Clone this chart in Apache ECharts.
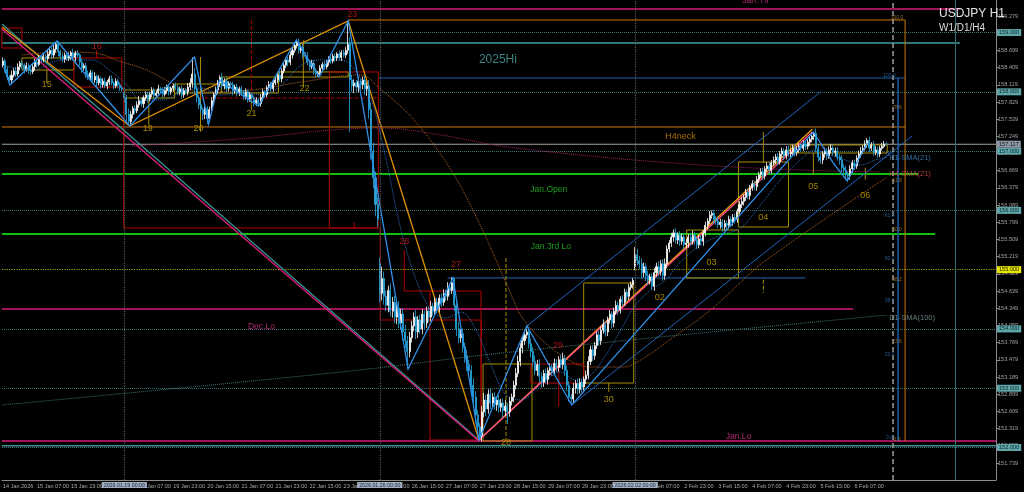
<!DOCTYPE html>
<html><head><meta charset="utf-8">
<script src="https://cdn.jsdelivr.net/npm/echarts@6/dist/echarts.min.js"></script>
<style>html,body{margin:0;padding:0;background:#000;}#c{width:1024px;height:492px;}</style>
</head><body><div id="c"></div>
<script>
// ---------- DATA (bar index = hourly bar from 14 Jan 15:00; price in JPY) ----------
const closes = [
158.52,158.38,158.25,158.20,158.28,158.35,158.30,158.42,158.48,158.45,
158.38,158.44,158.36,158.34,158.42,158.50,158.46,158.55,158.54,158.60,
158.56,158.64,158.70,158.62,158.72,158.80,158.68,158.60,158.55,158.62,
158.57,158.60,158.66,158.58,158.65,158.62,158.50,158.40,158.44,158.30,
158.25,158.32,158.20,158.26,158.15,158.22,158.12,158.18,158.10,158.16,
158.22,158.15,158.10,158.18,158.12,158.07,158.04,157.90,157.62,157.50,
157.62,157.72,157.68,157.78,157.85,157.80,157.90,157.95,157.88,157.96,
158.02,157.94,157.98,158.05,158.03,157.96,158.02,158.08,158.00,158.06,
158.10,158.07,158.00,158.05,157.95,158.02,158.00,158.08,158.15,158.30,
158.05,157.90,157.78,157.70,157.62,157.72,157.55,157.70,157.85,157.95,
158.03,158.15,158.24,158.10,158.18,158.06,158.14,158.12,158.02,158.08,
157.98,158.05,158.00,157.92,158.00,157.88,157.95,157.90,157.82,157.86,
157.80,157.90,158.00,157.95,158.07,158.12,158.05,158.15,158.20,158.28,
158.22,158.35,158.45,158.54,158.50,158.62,158.70,158.78,158.82,158.70,
158.75,158.62,158.60,158.50,158.42,158.48,158.36,158.30,158.32,158.40,
158.46,158.42,158.50,158.55,158.52,158.60,158.57,158.64,158.58,158.66,
158.62,158.70,158.80,158.20,158.10,158.15,158.08,158.18,158.12,158.20,
158.05,158.10,157.70,157.00,156.55,156.10,155.85,154.60,154.85,154.55,
154.40,154.65,154.30,154.45,154.20,154.35,154.10,154.25,153.95,153.80,
153.62,153.85,154.05,154.20,153.95,154.15,154.00,154.25,154.10,154.30,
154.20,154.38,154.30,154.45,154.35,154.52,154.45,154.60,154.55,154.70,
154.65,154.78,154.40,154.00,153.85,153.92,153.70,153.55,153.40,153.30,
153.05,152.85,152.55,152.35,152.20,152.60,152.80,152.65,152.90,152.75,
152.85,152.72,152.80,152.68,152.75,152.62,152.70,152.60,152.78,152.85,
153.05,153.25,153.45,153.68,153.80,153.90,153.95,153.75,153.62,153.45,
153.30,153.40,153.20,153.10,153.25,153.15,153.30,153.35,153.28,153.42,
153.35,153.48,153.40,153.50,153.30,153.05,152.85,152.82,153.00,153.08,
152.98,153.10,153.02,153.15,153.22,153.45,153.65,153.55,153.72,153.90,
153.80,153.98,154.08,153.95,154.15,154.25,154.10,154.30,154.40,154.32,
154.50,154.45,154.62,154.55,154.70,154.75,154.82,155.25,155.15,155.10,
154.95,155.05,154.90,154.82,154.88,154.72,154.95,155.05,154.98,155.10,
154.90,155.10,155.35,155.45,155.55,155.62,155.50,155.58,155.48,155.55,
155.42,155.45,155.55,155.48,155.58,155.50,155.42,155.52,155.48,155.62,
155.75,155.82,155.92,155.95,155.85,155.82,155.76,155.80,155.72,155.78,
155.75,155.85,155.80,155.88,155.85,155.98,156.10,156.15,156.22,156.30,
156.25,156.38,156.45,156.40,156.52,156.60,156.65,156.58,156.70,156.75,
156.68,156.80,156.85,156.90,156.82,156.95,157.00,156.92,157.02,156.95,
156.98,157.05,156.98,157.02,157.08,157.05,157.12,157.08,157.15,157.20,
157.25,157.30,157.05,156.90,156.85,156.95,157.00,156.92,157.02,157.05,
156.98,157.00,156.90,156.85,156.72,156.68,156.60,156.58,156.70,156.80,
156.75,156.88,156.95,157.00,157.05,157.12,157.18,157.05,157.10,156.98,
157.02,156.95,157.05,157.08,157.12,157.117];
// upper / lower wick lengths in pips
const upWick = [
6,4,5,3,8,5,7,6,4,5, 3,6,4,8,5,6,4,7,5,6, 4,8,6,5,7,4,6,3,5,4, 5,6,3,7,4,5,3,6,4,5,
6,5,4,7,3,6,4,5,6,4, 5,6,3,5,4,4,3,8,5,10, 6,4,5,6,8,5,4,6,5,4, 6,5,4,7,3,5,6,4,5,3,
4,6,5,3,6,4,5,7,8,28, 10,6,5,7,4,6,4,5,6,4, 6,5,4,8,5,6,4,3,5,4, 6,4,5,3,6,4,5,3,4,5,
4,6,5,3,4,6,5,4,6,5, 7,5,6,4,5,6,4,6,6,8, 4,6,5,7,4,6,5,4,3,5, 4,6,3,5,6,4,5,3,6,4,
5,6,39,12,8,6,5,7,4,6, 8,6,10,12,14,10,12,10,20,12, 10,8,12,9,11,10,12,9,10,12, 8,10,9,8,12,7,9,8,6,8,
7,9,6,8,7,6,8,7,6,9, 5,9,8,10,12,8,9,7,10,8, 9,12,10,8,6,10,12,9,8,10, 7,8,6,9,7,8,10,6,7,6,
8,9,10,8,7,6,5,8,9,7, 10,8,9,7,6,8,5,7,6,8, 7,6,8,10,6,8,7,5,9,6, 8,7,6,5,8,9,7,8,6,5,
7,6,8,5,6,7,5,6,8,6, 5,7,6,5,6,5,4,13,10,8, 9,7,6,8,5,6,8,7,9,6, 8,9,6,5,7,6,8,5,7,6,
6,7,5,6,8,6,5,7,6,5, 6,5,7,5,6,5,7,6,5,6, 5,6,5,6,7,5,6,7,5,6, 7,5,6,5,6,5,6,7,5,6,
6,5,6,5,7,5,6,5,6,7, 5,6,5,7,6,5,6,5,6,5, 6,2,8,7,6,5,6,5,6,7, 5,6,7,5,8,6,7,5,6,5,
6,5,6,7,5,6,4,6,5,7, 6,5,4,6,5,3];
const downWick = [
4,6,5,3,6,4,5,4,6,5, 7,4,6,5,4,6,5,3,6,4, 6,5,4,7,5,6,8,6,5,6, 4,5,6,4,7,5,6,8,4,7,
5,6,4,5,7,4,6,5,4,6, 5,4,6,4,5,6,4,8,12,6, 5,7,6,4,5,6,7,5,6,4, 5,6,4,5,6,7,4,5,6,5,
6,4,5,6,7,5,4,6,5,8, 10,8,7,6,10,8,9,6,5,7, 5,6,7,5,6,7,5,6,8,5, 6,5,7,6,5,6,5,4,7,6,
4,5,6,5,4,5,6,5,4,6, 5,6,4,5,7,5,6,4,5,6, 5,6,4,5,6,4,7,6,4,5, 6,5,4,6,5,4,6,5,5,6,
4,5,6,88,10,12,8,9,7,8, 10,12,15,14,18,20,13,15,12,14, 10,12,9,11,10,12,9,10,14,12, 29,10,8,9,12,10,8,9,11,8,
9,7,8,6,9,7,8,6,8,7, 8,6,10,12,9,8,10,12,11,9, 12,10,14,12,6,10,9,12,8,10, 9,8,10,9,8,12,9,20,8,7,
8,7,6,8,9,7,6,8,10,9, 8,9,10,9,8,7,9,8,7,6, 8,7,6,8,9,10,8,8,7,9, 8,7,9,6,8,7,6,9,7,6,
8,7,6,8,7,6,9,7,6,8, 6,7,6,8,6,5,7,6,8,9, 10,8,9,8,7,6,8,7,9,8, 9,7,8,6,7,8,6,7,8,6,
7,6,8,7,6,8,7,6,7,8, 6,7,5,6,8,7,6,7,8,6, 7,6,8,6,7,6,5,6,7,6, 6,7,5,6,7,6,5,7,6,5,
7,6,5,7,6,5,6,7,6,5, 6,5,7,6,5,6,5,6,5,6, 5,6,7,8,6,7,6,7,5,6, 6,7,6,8,7,6,8,8,6,7,
6,5,7,6,5,4,6,7,5,6, 5,6,5,4,3,2];
const gapOpens = {0:158.45, 57:157.98, 177:155.10, 297:155.05};
const tickLabels = ["14 Jan 2026","15 Jan 07:00","15 Jan 23:00","16 Jan 15:00","19 Jan 07:00","19 Jan 23:00",
 "20 Jan 15:00","21 Jan 07:00","21 Jan 23:00","22 Jan 15:00","23 Jan 07:00","23 Jan 23:00","26 Jan 15:00",
 "27 Jan 07:00","27 Jan 23:00","28 Jan 15:00","29 Jan 07:00","29 Jan 23:00","30 Jan 15:00","2 Feb 07:00",
 "2 Feb 23:00","3 Feb 15:00","4 Feb 07:00","4 Feb 23:00","5 Feb 15:00","6 Feb 07:00"];
const priceTicks = [151.739,152.029,152.319,152.609,152.899,153.189,153.479,153.769,154.059,154.349,154.639,
 154.929,155.219,155.509,155.799,156.089,156.379,156.669,156.959,157.249,157.539,157.829,158.119,158.409,
 158.699,158.989,159.279];
const roundLevels = [159, 158, 157, 156, 154, 153, 152];
const yellowLevel = [155];
const currentPrice = 157.117;
const separators = [[57,"2026.01.19 00:00"],[177,"2026.01.26 00:00"],[297,"2026.02.02 00:00"]];

// overlay objects, [barIndex, price]
const janHi = [[-0.5,159.397],[449.6,159.397]];
const hi2025 = [[-0.5,158.824],[449.6,158.824]];
const fibTop = [[162.2,159.212],[423.8,159.212]];
const blueFibTop = [[176.3,158.233],[423.8,158.233]];
const h4neck = [[-0.5,157.407],[423.8,157.407]];
const curLine = [[-0.5,157.117],[466.5,157.117]];
const janOpen = [[-0.5,156.614],[429.9,156.614]];
const jan3rdLo = [[-0.5,155.602],[437.9,155.602]];
const decLo = [[-0.5,154.337],[399.4,154.337]];
const janLo = [[-0.5,152.110],[466.5,152.110]];
const tealBottom = [[-0.5,152.030],[466.5,152.030]];
const high27 = [[208.8,154.860],[377.0,154.860]];
const orangeVert = [[423.8,159.212],[423.8,152.110]];
const blueVert = [[420.5,158.233],[420.5,152.110]];
const orangeLegs = [[-0.5,159.094],[59.5,157.424],[162.2,159.195],[223.6,152.127]];
const tealDiag = [[-0.5,159.144],[223.6,152.127]];
const magentaDiag = [[-0.5,159.060],[223.6,152.110]];
const pinkRise = [[223.6,152.127],[380.2,157.322]];
const orangeRise = [[223.6,152.127],[380.2,157.370]];
const channelUp = [[246.1,154.050],[384.0,157.997]];
const channelLo = [[267.2,152.717],[427.1,157.255]];
const zigzag = [[0.44,158.419],[3.25,158.115],[25.3,158.857],[59.5,157.424],[90.0,158.587],[96.6,157.457],
 [101.7,158.200],[120.0,157.761],[137.8,158.874],[148.6,158.250],[162.2,159.195],[190.3,153.325],[211.4,154.860],
 [223.6,152.127],[246.1,154.050],[267.2,152.717],[380.7,157.322],[390.1,156.799],[396.6,156.496],[406.0,157.137]];
const h4Sma = [[8.9,158.621],[27.6,158.672],[43.1,158.655],[55.8,158.503],[65.1,158.402],[93.3,157.997],
 [116.7,158.031],[140.2,158.166],[168.3,158.284],[176.3,158.081],[193.1,157.525],[210.5,156.681],[224.6,155.720],
 [237.2,154.708],[244.7,154.151],[260.7,153.594],[276.1,153.358],[291.6,153.358],[299.6,153.476],[315.1,153.864],
 [332.4,154.320],[354.4,155.045],[369.9,155.450],[385.4,155.838],[401.3,156.226],[415.4,156.563]];
const h1Sma = [[-0.5,158.453],[13.6,158.368],[27.6,158.537],[41.7,158.537],[51.1,158.334],[58.1,158.115],
 [65.1,157.862],[74.5,157.862],[83.9,157.997],[93.3,158.065],[102.6,157.946],[112.0,157.997],[121.4,157.946],
 [130.8,158.115],[140.2,158.453],[149.5,158.537],[158.9,158.537],[166.0,158.334],[173.0,157.862],[180.0,156.850],
 [187.0,155.669],[194.1,154.826],[201.1,154.320],[208.1,154.185],[215.2,154.286],[222.2,153.983],[229.2,153.393],
 [236.3,152.887],[243.3,152.802],[252.7,153.055],[262.1,153.274],[269.1,153.139],[276.1,153.223],[283.2,153.561],
 [290.2,153.983],[297.2,154.404],[304.3,154.657],[311.3,154.826],[318.3,155.129],[327.7,155.416],[337.1,155.585],
 [346.5,155.703],[355.8,156.091],[365.2,156.513],[374.6,156.850],[381.6,157.019],[388.7,156.934],[395.7,156.850],
 [402.7,156.766],[409.8,156.850],[415.4,156.901]];
const longSma = [[60.5,157.086],[116.7,157.221],[154.2,157.356],[177.7,157.390],[205.8,157.272],[233.9,157.086],
 [280.8,156.901],[327.7,156.766],[374.6,156.681],[412.1,156.648]];
const d1Sma = [[-0.5,152.717],[158.9,153.274],[238.6,153.611],[415.4,154.235]];
// boxes [bar1, price1, bar2, price2]
const oliveBoxes = [[8.9,158.571,33.3,158.368],[57.2,158.031,80.6,157.896],[80.6,158.132,102.6,157.980],
 [102.6,158.250,129.4,157.980],[129.4,158.335,162.2,158.250],[225.5,153.409,248.5,152.110],
 [272.8,154.775,296.3,153.088],[321.2,155.669,345.5,154.860],[345.5,156.816,369.0,155.720],
 [369.9,157.103,415.4,156.968]];
const oliveTicks = [[[20.6,158.368],[20.6,158.150]],[[68.5,157.896],[68.5,157.440]],[[92.8,158.587],[92.8,157.330]],
 [[116.7,157.980],[116.7,157.690]],[[141.1,158.870],[141.1,158.080]],[[284.6,153.088],[284.6,152.940]],
 [[357.2,157.320],[357.2,156.800]],[[405.1,156.720],[405.1,156.520]],[[380.7,156.968],[380.7,156.600]]];
const oliveDashed = [[[236.3,155.197],[236.3,152.127]],[[357.2,154.830],[357.2,154.610]]];
const redBoxes = [[-0.5,159.077,8.9,158.739],[33.3,158.571,55.8,158.081],[153.3,158.335,176.3,155.703],
 [200.6,154.640,224.6,152.127],[248.0,153.409,272.8,153.088]];
const redLines = [[[56.7,158.081],[56.7,155.703],[176.3,155.703]],[[44.0,158.700],[44.0,158.571]],
 [[188.5,155.332],[188.5,154.640],[200.6,154.640]],[[177.2,155.703],[177.2,154.151],[224.6,154.151],[224.6,152.127]],
 [[261.1,153.527],[261.1,152.684]],[[165.0,155.800],[165.0,155.703]]];
const redDashed = [[[91.9,157.896],[176.3,157.896]],[[116.7,159.212],[116.7,157.778]]];
// text labels [bar, price, text]
const levelTexts = {
  teal:[[232.5,158.537,"2025Hi"]], orange:[[318.3,157.238,"H4neck"]],
  green:[[256.4,156.344,"Jan.Open"],[257.4,155.383,"Jan.3rd Lo"]],
  pink:[[121.4,154.033,"Dec.Lo"],[345.5,152.177,"Jan.Lo"],[353.5,159.545,"Jan. Hi"]]
};
const oliveCounts = [[20.6,158.115,"15"],[68.0,157.373,"19"],[91.9,157.373,"20"],[116.7,157.626,"21"],
 [141.6,158.048,"22"],[236.3,152.076,"28"],[284.6,152.802,"30"],[308.5,154.522,"02"],[332.9,155.129,"03"],
 [357.2,155.872,"04"],[380.7,156.395,"05"],[405.1,156.243,"06"]];
const redCounts = [[44.0,158.756,"16"],[164.1,159.296,"23"],[188.5,155.467,"26"],[212.8,155.079,"27"],[260.7,153.729,"29"]];
const smaTexts = [[416.3,156.884,"H1-SMA(21)","#3a8ad0"],[416.3,156.614,"H4-SMA(21)","#e04848"],[416.3,154.185,"D1-SMA(100)","#7f9a9e"]];
const fibTextsOrange = [[420.0,159.250,"100.0"],[420.0,157.730,"78.6"],[420.0,156.500,"61.8"],[420.0,155.680,"50.0"],
 [420.0,154.830,"38.2"],[420.0,153.780,"23.6"],[420.0,152.140,"0.0"]];
const fibTextsBlue = [[416.5,158.280,"100.0"],[416.5,156.940,"78.6"],[416.5,155.920,"61.8"],[416.5,155.180,"50.0"],
 [416.5,154.470,"38.2"],[416.5,153.570,"23.6"],[416.5,152.160,"0.0"]];

// ---------- BUILD ----------
const NCAT = 467;
const cats = [];
for (let i = 0; i < NCAT; i++) cats.push(i % 16 === 0 && i / 16 < tickLabels.length ? tickLabels[i / 16] : '');
const candles = closes.map((c, i) => {
  const o = gapOpens[i] !== undefined ? gapOpens[i] : closes[i - 1];
  return [o, c, +(Math.min(o, c) - downWick[i] / 100).toFixed(3), +(Math.max(o, c) + upWick[i] / 100).toFixed(3)];
});
const FONT = 'Liberation Sans, Arial, sans-serif';
function lines(segs, color, width, type, z) {
  return {type:'lines', coordinateSystem:'cartesian2d', xAxisIndex:1, yAxisIndex:0, polyline:true, silent:true,
    animation:false, z:z||2, lineStyle:{color:color, width:width, type:type||'solid', opacity:1},
    data: segs.map(c => ({coords:c}))};
}
function boxPath(b) { return [[b[0],b[1]],[b[2],b[1]],[b[2],b[3]],[b[0],b[3]],[b[0],b[1]]]; }
function curve(pts, color, type) {
  return {type:'line', xAxisIndex:1, yAxisIndex:0, data:pts, smooth:0.35, symbol:'none', silent:true,
    animation:false, z:2, lineStyle:{color:color, width:1, type:type||'dotted'}};
}
function texts(items, color, size, pos, z) {
  return {type:'scatter', xAxisIndex:1, yAxisIndex:0, symbolSize:0, silent:true, animation:false, z:z||6,
    data: items.map(t => ({value:[t[0], t[1]], name:t[2]})),
    label:{show:true, formatter:'{b}', position:pos||'inside', color:color, fontSize:size, fontFamily:FONT, distance:0}};
}
const markBox = (bg, fg) => ({show:true, position:'end', distance:1, fontSize:5.6, fontFamily:FONT,
  backgroundColor:bg, color:fg, padding:[1,2,0,2]});

const series = [
  // horizontal level lines
  lines([janHi], '#d81b78', 1.3), lines([hi2025], '#3f9f9f', 1.3), lines([fibTop], '#d07800', 1),
  lines([blueFibTop], '#1c5ea8', 1.2), lines([h4neck], '#d07800', 1), lines([curLine], '#7a7a7a', 1),
  lines([janOpen], '#12c012', 2), lines([jan3rdLo], '#12c012', 2), lines([decLo], '#d81b78', 1.5),
  lines([janLo], '#d81b78', 1.3), lines([tealBottom], '#3f8f8f', 1.3), lines([high27], '#2266b0', 1),
  lines([orangeVert], '#d07800', 1), lines([blueVert], '#1c5ea8', 1.5),
  // boxes
  lines(oliveBoxes.map(boxPath), '#a88e00', 1), lines(oliveTicks, '#a88e00', 1), lines(oliveDashed, '#a88e00', 1, 'dashed'),
  lines(redBoxes.map(boxPath), '#b00000', 1), lines(redLines, '#b00000', 1), lines(redDashed, '#b00000', 1, 'dashed'),
  // indicator curves
  curve(h4Sma, '#b8641e'), curve(h1Sma, '#2a6fc0'), curve(longSma, '#a0205a'), curve(d1Sma, '#3f7070'),
  // diagonals
  lines([tealDiag], '#3a9a9a', 1.2), lines([magentaDiag], '#d81b78', 1.5), lines([orangeLegs], '#e09000', 1.3),
  lines([channelUp, channelLo], '#1e64c0', 1),
  lines([orangeRise], '#f0a000', 1.3), lines([pinkRise], '#ff4a8a', 1.3),
  // candles
  {type:'candlestick', xAxisIndex:0, yAxisIndex:0, data:candles, barWidth:'72%', silent:true, animation:false, z:3,
    itemStyle:{color:'#ffffff', color0:'#2aa6dc', borderColor:'#ffffff', borderColor0:'#2aa6dc', borderWidth:0.8},
    markLine:{silent:true, symbol:'none', animation:false, z:1, precision:3,
      data: roundLevels.map(v => ({yAxis:v, lineStyle:{color:'#3d7676', type:'dotted', width:1},
              label:markBox('#5fa6aa', '#0d2a2b')}))
        .concat(yellowLevel.map(v => ({yAxis:v, lineStyle:{color:'#a8a800', type:'dotted', width:1.2},
              label:markBox('#e8e800', '#202000')})))
        .concat([{yAxis:currentPrice, lineStyle:{color:'#7a7a7a', type:'solid', width:1},
              label:markBox('#8c98a4', '#10161c')}]),
      label:{formatter: p => Number(p.value).toFixed(3)}}},
  // zigzag on top
  lines([zigzag], '#2e90e8', 1.3, 'solid', 4),
  // separators and verticals
  {type:'line', xAxisIndex:1, yAxisIndex:0, data:[], silent:true, animation:false, z:7,
    markLine:{silent:true, symbol:'none', animation:false,
      data: separators.map(s => ({xAxis:s[0], name:s[1], lineStyle:{color:'#5a5a5a', type:'dotted', width:1.2},
        label:{show:true, position:'start', formatter:'{b}', distance:2, fontSize:5.3, fontFamily:FONT,
          backgroundColor:'#9fb0c2', color:'#1a2430', padding:[1,2,0,2]}}))
      .concat([{xAxis:418.2, lineStyle:{color:'#9a9a9a', type:[5,3], width:1.5}, label:{show:false}},
               {xAxis:447.3, lineStyle:{color:'#2f6f6f', type:'solid', width:1}, label:{show:false}}])}},
  // texts
  texts(levelTexts.teal, '#4aa3a3', 12), texts(levelTexts.orange, '#d88400', 9),
  texts(levelTexts.green, '#22c422', 8.5), texts(levelTexts.pink, '#e0308a', 8.5),
  texts(oliveCounts, '#c8a400', 9), texts(redCounts, '#d81818', 9),
  texts(fibTextsOrange, '#b88a30', 5, 'inside'), texts(fibTextsBlue, '#2f6fb8', 5, 'inside')
].concat(smaTexts.map(t => texts([t], t[3], 7.5, 'right')));

const chart = echarts.init(document.getElementById('c'), null, {renderer:'canvas'});
chart.setOption({
  backgroundColor:'#000000',
  animation:false,
  title:{text:'USDJPY H1', subtext:'W1/D1/H4', left:934, top:3, itemGap:3,
    textStyle:{color:'#e6e6e6', fontSize:12, fontWeight:'normal', fontFamily:FONT},
    subtextStyle:{color:'#dcdcdc', fontSize:10, fontFamily:FONT}},
  grid:{left:0, right:28, top:0, bottom:12, show:false},
  xAxis:[
    {type:'category', data:cats, boundaryGap:true, gridIndex:0,
      axisLine:{onZero:false, lineStyle:{color:'#8a8a8a'}},
      axisTick:{interval:(i, v) => v !== '', length:3, lineStyle:{color:'#8a8a8a'}},
      axisLabel:{interval:(i, v) => v !== '', align:'left', fontSize:5.5, color:'#a8a8a8', margin:3, fontFamily:FONT,
        showMinLabel:true, showMaxLabel:true, hideOverlap:false},
      splitLine:{show:false}},
    {type:'value', min:-0.5, max:466.5, show:false, gridIndex:0, axisLine:{onZero:false}}
  ],
  yAxis:{type:'value', position:'right', min:151.452, max:159.549, scale:true,
    axisLine:{show:true, onZero:false, lineStyle:{color:'#8a8a8a'}},
    axisTick:{show:true, length:3, customValues:priceTicks, lineStyle:{color:'#8a8a8a'}},
    axisLabel:{customValues:priceTicks, formatter:v => v.toFixed(3), fontSize:5.6, color:'#a0a0a0', margin:2, fontFamily:FONT},
    splitLine:{show:false}},
  series:series
});
</script></body></html>
